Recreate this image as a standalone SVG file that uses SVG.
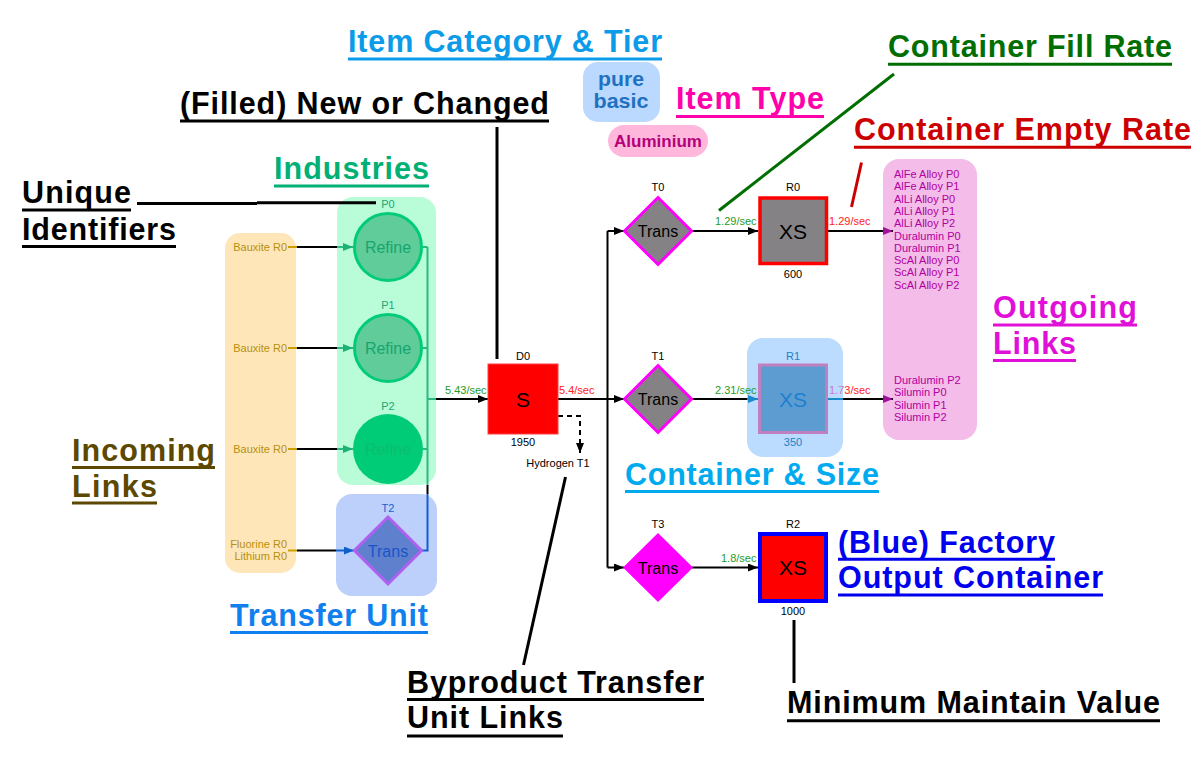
<svg xmlns="http://www.w3.org/2000/svg" width="1200" height="784" viewBox="0 0 1200 784">
<defs>
<style>
.big{font-family:"Liberation Sans",Arial,sans-serif;font-weight:bold;font-size:30.5px}
.s{font-family:"Liberation Sans",Arial,sans-serif;font-size:11px}
.m{font-family:"Liberation Sans",Arial,sans-serif;font-size:16px;text-anchor:middle}
.xs{font-family:"Liberation Sans",Arial,sans-serif;font-size:21px;text-anchor:middle}
.c{text-anchor:middle}
.r{text-anchor:end}
.e{fill:none;stroke-width:2}
.ul{stroke-width:3}
.lead{fill:none;stroke-width:3}
.out{fill:#b000a0}
</style>
<marker id="ab" markerWidth="10" markerHeight="8" refX="10" refY="4" orient="auto" markerUnits="userSpaceOnUse"><path d="M0,0L10,4L0,8z" fill="#000"/></marker>
<marker id="ag" markerWidth="10" markerHeight="8" refX="10" refY="4" orient="auto" markerUnits="userSpaceOnUse"><path d="M0,0L10,4L0,8z" fill="#1fb075"/></marker>
<marker id="abl" markerWidth="10" markerHeight="8" refX="10" refY="4" orient="auto" markerUnits="userSpaceOnUse"><path d="M0,0L10,4L0,8z" fill="#1060cc"/></marker>
<marker id="alb" markerWidth="10" markerHeight="8" refX="10" refY="4" orient="auto" markerUnits="userSpaceOnUse"><path d="M0,0L10,4L0,8z" fill="#1a88cc"/></marker>
<marker id="ap" markerWidth="10" markerHeight="8" refX="10" refY="4" orient="auto" markerUnits="userSpaceOnUse"><path d="M0,0L10,4L0,8z" fill="#a0109a"/></marker>
</defs>
<rect width="1200" height="784" fill="#ffffff"/>

<!-- cluster backgrounds -->
<g id="incoming">
<rect x="225" y="233" width="71" height="340" rx="15" fill="#ffe6b8"/>
<g class="s r" fill="#b8900a">
<text x="287" y="251">Bauxite R0</text>
<text x="287" y="352">Bauxite R0</text>
<text x="287" y="453">Bauxite R0</text>
<text x="287" y="548">Fluorine R0</text>
<text x="287" y="560">Lithium R0</text>
</g>
</g>
<g id="industries"><rect x="337" y="197" width="99" height="288" rx="16" fill="#b9fcd8"/></g>
<g id="transfer-cluster"><rect x="336" y="494" width="101" height="102" rx="16" fill="#bdd0fc"/></g>
<g id="r1-cluster"><rect x="747" y="338" width="96" height="119" rx="16" fill="#bcdcff"/></g>
<g id="outgoing">
<rect x="883" y="159" width="94" height="281" rx="16" fill="#f4bce8"/>
<g class="s out">
<text x="894" y="178">AlFe Alloy P0</text>
<text x="894" y="190.3">AlFe Alloy P1</text>
<text x="894" y="202.6">AlLi Alloy P0</text>
<text x="894" y="214.9">AlLi Alloy P1</text>
<text x="894" y="227.2">AlLi Alloy P2</text>
<text x="894" y="239.5">Duralumin P0</text>
<text x="894" y="251.8">Duralumin P1</text>
<text x="894" y="264.1">ScAl Alloy P0</text>
<text x="894" y="276.4">ScAl Alloy P1</text>
<text x="894" y="288.7">ScAl Alloy P2</text>
<text x="894" y="384">Duralumin P2</text>
<text x="894" y="396.3">Silumin P0</text>
<text x="894" y="408.6">Silumin P1</text>
<text x="894" y="420.9">Silumin P2</text>
</g>
</g>

<!-- connectors -->
<g id="connectors">
<g stroke="#c8a000" class="e">
<path d="M288,247H297M288,348H297M288,449H297M288,550.5H297"/>
</g>
<g stroke="#000" class="e">
<path d="M297,247H337M297,348H337M297,449H337M297,550.5H336"/>
<path d="M427.5,485V494"/>
<path d="M436,399H488" marker-end="url(#ab)"/>
<path d="M558,399H607.5M607.5,231V567.5"/>
<path d="M607.5,231H624" marker-end="url(#ab)"/>
<path d="M607.5,399H624" marker-end="url(#ab)"/>
<path d="M607.5,567.5H624" marker-end="url(#ab)"/>
<path d="M692,231H758" marker-end="url(#ab)"/>
<path d="M692,399H747"/>
<path d="M692,567.5H758" marker-end="url(#ab)"/>
<path d="M828,231H893" marker-end="url(#ap)"/>
<path d="M843,399H893" marker-end="url(#ap)"/>
<path d="M558,416H580V453" stroke-dasharray="5,4" marker-end="url(#ab)"/>
</g>
<g stroke="#2cb880" class="e">
<path d="M337,247H353" marker-end="url(#ag)"/>
<path d="M337,348H353" marker-end="url(#ag)"/>
<path d="M337,449H353" marker-end="url(#ag)"/>
<path d="M422,247H427.5M422,348H427.5M422,449H427.5M427.5,247V485M427.5,399H436"/>
</g>
<g stroke="#1060cc" class="e">
<path d="M336,550.5H354" marker-end="url(#abl)"/>
<path d="M422,550.5H427.5V494"/>
</g>
<g stroke="#1a88cc" class="e">
<path d="M747,399H758" marker-end="url(#alb)"/>
<path d="M828,399H843"/>
</g>
<g class="s">
<text x="445" y="394" fill="#1f9c1f">5.43/sec</text>
<text x="559" y="394" fill="#ff2020">5.4/sec</text>
<text x="715" y="225" fill="#1f9c1f">1.29/sec</text>
<text x="829" y="225" fill="#ff2020">1.29/sec</text>
<text x="715" y="394" fill="#1f9c1f">2.31/sec</text>
<text x="829" y="394" fill="#ff2020"><tspan fill="#c878c8">1.7</tspan>3/sec</text>
<text x="721" y="562" fill="#1f9c1f">1.8/sec</text>
</g>
</g>

<!-- nodes -->
<g id="P0">
<text class="s c" x="388" y="208" fill="#1aa874">P0</text>
<circle cx="388" cy="247" r="33.5" fill="#5fcc9a" stroke="#00cc77" stroke-width="3"/>
<text class="m" x="388" y="253" font-size="17" fill="#17a56f">Refine</text>
</g>
<g id="P1">
<text class="s c" x="388" y="309" fill="#1aa874">P1</text>
<circle cx="388" cy="348" r="33.5" fill="#5fcc9a" stroke="#00cc77" stroke-width="3"/>
<text class="m" x="388" y="354" font-size="17" fill="#17a56f">Refine</text>
</g>
<g id="P2">
<text class="s c" x="388" y="410" fill="#1aa874">P2</text>
<circle cx="388" cy="449" r="35" fill="#00cc77"/>
<text class="m" x="388" y="455" font-size="17" fill="#0cbd6e">Refine</text>
</g>
<g id="T2">
<text class="s c" x="388" y="511.5" fill="#1a5fcc">T2</text>
<path d="M388,517L421.5,550.5L388,584L354.5,550.5z" fill="#5f80cc" stroke="#b060f0" stroke-width="3"/>
<text class="m" x="388" y="556.5" fill="#1a55c8">Trans</text>
</g>
<g id="D0">
<text class="s c" x="523" y="360">D0</text>
<rect x="488" y="364" width="70" height="70" fill="#ff0000" stroke="#ff4040" stroke-width="1"/>
<text class="xs" x="523" y="406.5">S</text>
<text class="s c" x="523" y="446">1950</text>
<text class="s c" x="558" y="467">Hydrogen T1</text>
</g>
<g id="T0">
<text class="s c" x="658" y="191">T0</text>
<path d="M658,197.5L691.5,231L658,264.5L624.5,231z" fill="#848284" stroke="#ff00ff" stroke-width="3"/>
<text class="m" x="658" y="237">Trans</text>
</g>
<g id="T1">
<text class="s c" x="658" y="360">T1</text>
<path d="M658,365.5L691.5,399L658,432.5L624.5,399z" fill="#848284" stroke="#ff00ff" stroke-width="3"/>
<text class="m" x="658" y="405">Trans</text>
</g>
<g id="T3">
<text class="s c" x="658" y="528">T3</text>
<path d="M658,533L693,567.5L658,602L623,567.5z" fill="#ff00ff"/>
<text class="m" x="658" y="573.5">Trans</text>
</g>
<g id="R0">
<text class="s c" x="793" y="191">R0</text>
<rect x="760" y="198" width="66.5" height="65.5" fill="#848284" stroke="#ff0000" stroke-width="3.5"/>
<text class="xs" x="793" y="238.5">XS</text>
<text class="s c" x="793" y="278">600</text>
</g>
<g id="R1">
<text class="s c" x="793" y="360" fill="#1a80cc">R1</text>
<rect x="759.5" y="365" width="67" height="67.5" fill="#5c9cd0" stroke="#c080c0" stroke-width="3"/>
<text class="xs" x="793" y="406.5" fill="#1f80d0">XS</text>
<text class="s c" x="793" y="446" fill="#1a80cc">350</text>
</g>
<g id="R2">
<text class="s c" x="793" y="528">R2</text>
<rect x="760" y="534" width="66" height="67" fill="#ff0000" stroke="#0000ff" stroke-width="4"/>
<text class="xs" x="793" y="574.5">XS</text>
<text class="s c" x="793" y="615">1000</text>
</g>
<g id="item-category">
<rect x="583" y="62" width="77" height="60" rx="15" fill="#bbd8ff"/>
<g font-family="Liberation Sans,Arial,sans-serif" font-weight="bold" font-size="21" fill="#1f72bf" text-anchor="middle">
<text x="621" y="86" textLength="46" lengthAdjust="spacingAndGlyphs">pure</text>
<text x="621" y="107.5" textLength="55" lengthAdjust="spacingAndGlyphs">basic</text>
</g>
</g>
<g id="item-type">
<rect x="608" y="125" width="100" height="32" rx="16" fill="#ffb8dc"/>
<text x="658" y="147" font-family="Liberation Sans,Arial,sans-serif" font-weight="bold" font-size="17" fill="#b5007a" text-anchor="middle">Aluminium</text>
</g>

<!-- annotation leaders -->
<g id="annotation-leaders">
<path class="lead" stroke="#000" d="M137,203.5H257M257,202.8H376"/>
<path class="lead" stroke="#000" d="M497,127V359"/>
<path class="lead" stroke="#006e00" d="M894,74L719,210.5"/>
<path class="lead" stroke="#cc0000" d="M861.5,162.5L851.5,207"/>
<path class="lead" stroke="#000" d="M565.5,477L523.5,665"/>
<path class="lead" stroke="#000" d="M794,620V683"/>
</g>

<!-- big labels -->
<g id="lbl-item-category">
<text class="big" x="348" y="52" textLength="314" lengthAdjust="spacing" fill="#0b9be8">Item Category &amp; Tier</text>
<line class="ul" x1="348" x2="662" y1="59" y2="59" stroke="#0b9be8"/>
</g>
<g id="lbl-filled">
<text class="big" x="180" y="114" textLength="369" lengthAdjust="spacing" fill="#000">(Filled) New or Changed</text>
<line class="ul" x1="180" x2="549" y1="121" y2="121" stroke="#000"/>
</g>
<g id="lbl-item-type">
<text class="big" x="676" y="109.3" textLength="148" lengthAdjust="spacing" fill="#ff00aa">Item Type</text>
<line class="ul" x1="676" x2="824" y1="116.5" y2="116.5" stroke="#ff00aa"/>
</g>
<g id="lbl-fill-rate">
<text class="big" x="888" y="57.3" textLength="284" lengthAdjust="spacing" fill="#006e00">Container Fill Rate</text>
<line class="ul" x1="888" x2="1172" y1="64.3" y2="64.3" stroke="#006e00"/>
</g>
<g id="lbl-empty-rate">
<text class="big" x="854" y="140" textLength="337" lengthAdjust="spacing" fill="#cc0000">Container Empty Rate</text>
<line class="ul" x1="854" x2="1191" y1="147.3" y2="147.3" stroke="#cc0000"/>
</g>
<g id="lbl-industries">
<text class="big" x="274" y="179" textLength="155" lengthAdjust="spacing" fill="#00b074">Industries</text>
<line class="ul" x1="274" x2="429" y1="186" y2="186" stroke="#00b074"/>
</g>
<g id="lbl-unique">
<text class="big" x="22" y="203.3" textLength="109" lengthAdjust="spacing" fill="#000">Unique</text>
<line class="ul" x1="22" x2="131" y1="210" y2="210" stroke="#000"/>
<text class="big" x="22" y="240" textLength="154" lengthAdjust="spacing" fill="#000">Identifiers</text>
<line class="ul" x1="22" x2="176" y1="246.5" y2="246.5" stroke="#000"/>
</g>
<g id="lbl-outgoing">
<text class="big" x="993" y="318" textLength="144" lengthAdjust="spacing" fill="#e010d8">Outgoing</text>
<line class="ul" x1="993" x2="1137" y1="325" y2="325" stroke="#e010d8"/>
<text class="big" x="993" y="354" textLength="83" lengthAdjust="spacing" fill="#e010d8">Links</text>
<line class="ul" x1="993" x2="1076" y1="360.5" y2="360.5" stroke="#e010d8"/>
</g>
<g id="lbl-incoming">
<text class="big" x="72" y="461" textLength="143" lengthAdjust="spacing" fill="#5c4800">Incoming</text>
<line class="ul" x1="72" x2="215" y1="467.5" y2="467.5" stroke="#5c4800"/>
<text class="big" x="72" y="497" textLength="85" lengthAdjust="spacing" fill="#5c4800">Links</text>
<line class="ul" x1="72" x2="157" y1="503" y2="503" stroke="#5c4800"/>
</g>
<g id="lbl-container-size">
<text class="big" x="625" y="484.5" textLength="254" lengthAdjust="spacing" fill="#00aaee">Container &amp; Size</text>
<line class="ul" x1="625" x2="879" y1="491.5" y2="491.5" stroke="#00aaee"/>
</g>
<g id="lbl-factory-output">
<text class="big" x="838" y="552.7" textLength="217" lengthAdjust="spacing" fill="#0000ee">(Blue) Factory</text>
<line class="ul" x1="838" x2="1055" y1="559.3" y2="559.3" stroke="#0000ee"/>
<text class="big" x="838" y="588.3" textLength="265" lengthAdjust="spacing" fill="#0000ee">Output Container</text>
<line class="ul" x1="838" x2="1103" y1="595" y2="595" stroke="#0000ee"/>
</g>
<g id="lbl-transfer-unit">
<text class="big" x="230" y="626" textLength="198" lengthAdjust="spacing" fill="#1080ee">Transfer Unit</text>
<line class="ul" x1="230" x2="428" y1="632.5" y2="632.5" stroke="#1080ee"/>
</g>
<g id="lbl-byproduct">
<text class="big" x="407" y="693.3" textLength="297" lengthAdjust="spacing" fill="#000">Byproduct Transfer</text>
<line class="ul" x1="407" x2="704" y1="699.5" y2="699.5" stroke="#000"/>
<text class="big" x="407" y="728.3" textLength="156" lengthAdjust="spacing" fill="#000">Unit Links</text>
<line class="ul" x1="407" x2="563" y1="736" y2="736" stroke="#000"/>
</g>
<g id="lbl-minimum">
<text class="big" x="787" y="713.3" textLength="373" lengthAdjust="spacing" fill="#000">Minimum Maintain Value</text>
<line class="ul" x1="787" x2="1160" y1="720.7" y2="720.7" stroke="#000"/>
</g>
</svg>
